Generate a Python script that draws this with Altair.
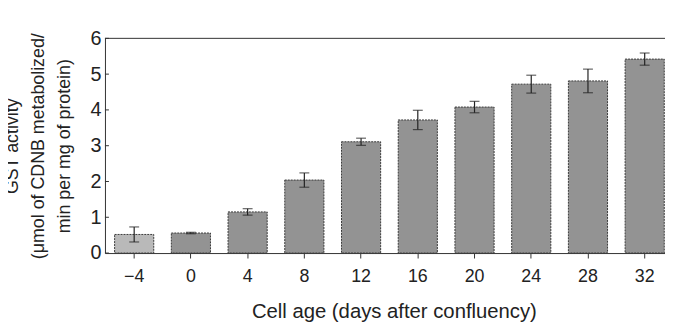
import altair as alt
import pandas as pd

ages = ["\u22124", "0", "4", "8", "12", "16", "20", "24", "28", "32"]
activity = [0.52, 0.56, 1.15, 2.04, 3.11, 3.72, 4.08, 4.72, 4.81, 5.42]
err = [0.21, 0.02, 0.09, 0.20, 0.10, 0.27, 0.16, 0.25, 0.33, 0.17]
y_ticks = [0, 1, 2, 3, 4, 5, 6]

df = pd.DataFrame({"age": ages, "act": activity, "err": err})
df["lo"] = df["act"] - df["err"]
df["hi"] = df["act"] + df["err"]

FONT = "Liberation Sans"
W, H = 566, 217

xscale = alt.Scale(domain=ages, range=[0, 575], paddingInner=0.31, paddingOuter=0.17)
yscale = alt.Scale(domain=[0, 6], nice=False)

x_axis = alt.Axis(
    title="Cell age (days after confluency)", labelAngle=0, labelFontSize=18,
    titleFontSize=20.5, labelFont=FONT, titleFont=FONT, labelColor="#222",
    titleColor="#222", titleFontWeight="normal", tickSize=5, labelPadding=10,
    domainColor="#333", tickColor="#333", titleX=292, titleY=49,
    titleBaseline="top",
)
y_axis = alt.Axis(
    title=["GST activity", "(\u03bcmol of CDNB metabolized/", "min per mg of protein)"],
    values=y_ticks, tickCount=7, grid=False, ticks=False, labelOverlap=False,
    labelFontSize=20, titleFontSize=18, labelFont=FONT, titleFont=FONT,
    labelColor="#222", titleColor="#222", titleFontWeight="normal", labelPadding=4,
    domainColor="#333", titleLineHeight=26, titleX=-84, titleY=H / 2,
    titleAngle=-90, titleBaseline="bottom", titleAlign="center",
)

base = alt.Chart(df)

bars = base.mark_bar(stroke="#3a3a3a", strokeWidth=1, strokeDash=[2, 1]).encode(
    x=alt.X("age:N", sort=ages, scale=xscale, axis=x_axis),
    y=alt.Y("act:Q", scale=yscale, axis=y_axis),
    color=alt.condition(alt.datum.age == "\u22124", alt.value("#b9b9b9"), alt.value("#939393")),
)

rules = base.mark_rule(color="#222", strokeWidth=1.2).encode(
    x=alt.X("age:N", sort=ages, scale=xscale, axis=x_axis),
    y=alt.Y("lo:Q", scale=yscale, axis=y_axis),
    y2="hi:Q",
)

caps_hi = base.mark_tick(color="#222", size=10, thickness=1.2, orient="horizontal").encode(
    x=alt.X("age:N", sort=ages, scale=xscale, axis=x_axis),
    y=alt.Y("hi:Q", scale=yscale, axis=y_axis),
)
caps_lo = base.mark_tick(color="#222", size=10, thickness=1.2, orient="horizontal").encode(
    x=alt.X("age:N", sort=ages, scale=xscale, axis=x_axis),
    y=alt.Y("lo:Q", scale=yscale, axis=y_axis),
)

top_line = alt.Chart(pd.DataFrame({"v": [6]})).mark_rule(color="#333", strokeWidth=1).encode(
    y=alt.Y("v:Q", scale=yscale, axis=y_axis),
    x=alt.value(0),
    x2=alt.value(575),
)

inner_ticks = alt.Chart(pd.DataFrame({"v": y_ticks})).mark_rule(color="#333", strokeWidth=1).encode(
    y=alt.Y("v:Q", scale=yscale, axis=y_axis),
    x=alt.value(0),
    x2=alt.value(4),
)

chart = alt.layer(bars, rules, caps_hi, caps_lo, top_line, inner_ticks).properties(
    width=W, height=H,
    autosize=alt.AutoSizeParams(type="none"),
    padding={"left": 98, "top": 29, "right": 0, "bottom": 68},
    background="white",
).configure_view(strokeWidth=0)

chart.save("out.html", embed_options={"renderer": "svg", "actions": False})
